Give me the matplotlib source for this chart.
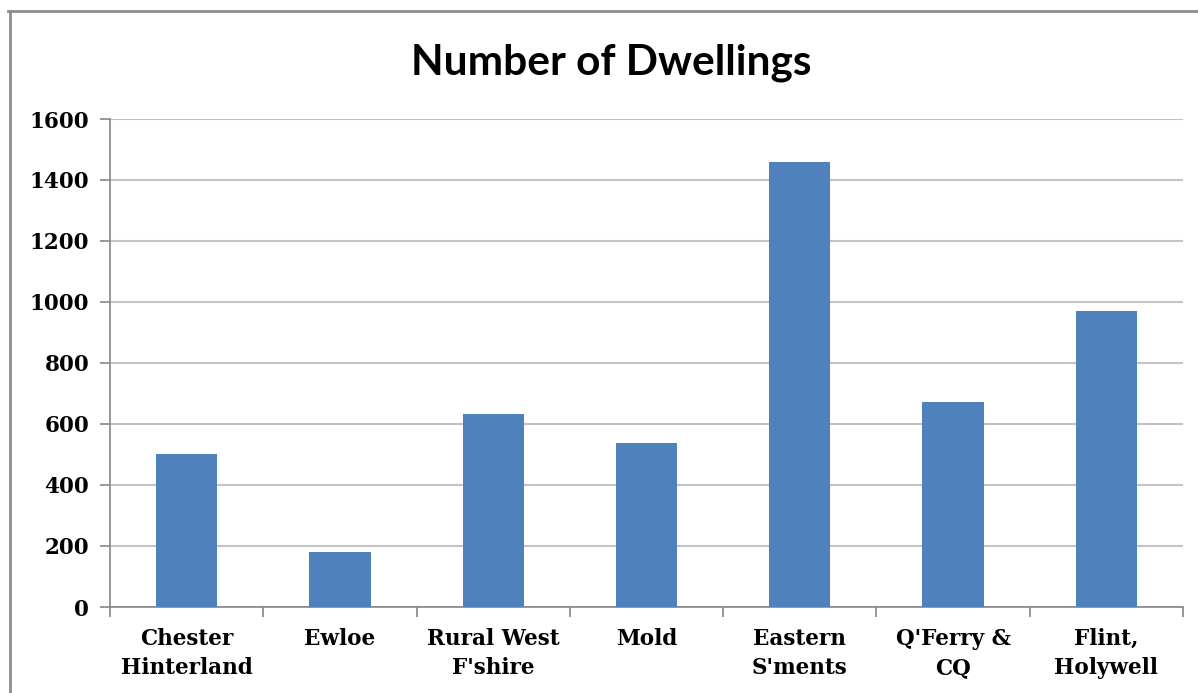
import matplotlib
matplotlib.use("Agg")
import matplotlib.pyplot as plt
from matplotlib.lines import Line2D
import numpy as np

categories = ["Chester\nHinterland", "Ewloe", "Rural West\nF'shire", "Mold",
              "Eastern\nS'ments", "Q'Ferry &\nCQ", "Flint,\nHolywell"]
dwellings = [503, 181, 634, 537, 1459, 671, 972]
yticks = [0, 200, 400, 600, 800, 1000, 1200, 1400, 1600]
title = "Number of Dwellings"

W, H = 1198, 693
fig = plt.figure(figsize=(W / 100, H / 100), dpi=100)
ax = fig.add_axes([110 / W, 1 - 607 / H, (1183 - 110) / W, (607 - 119) / H])

x = np.arange(len(categories))
ax.bar(x, dwellings, width=0.4, color="#4F81BD", zorder=3)

ax.set_xlim(-0.5, len(categories) - 0.5)
ax.set_ylim(0, 1600)
ax.set_yticks(yticks)
ax.set_yticklabels([str(v) for v in yticks], fontfamily="DejaVu Serif",
                   fontweight="bold", fontsize=15.5)
ax.set_xticks(x)
ax.set_xticklabels(categories, fontfamily="DejaVu Serif", fontweight="bold",
                   fontsize=15.5, linespacing=1.45)
ax.tick_params(axis="x", which="major", length=0, pad=15)
ax.set_xticks(np.arange(-0.5, len(categories), 1.0), minor=True)
ax.tick_params(axis="x", which="minor", length=7, width=1.2, color="#868686")
ax.tick_params(axis="y", length=7, width=1.2, color="#868686", pad=8)

ax.grid(axis="y", color="#C3C3C3", linewidth=1.5, zorder=0)
for s in ["top", "right"]:
    ax.spines[s].set_visible(False)
for s in ["left", "bottom"]:
    ax.spines[s].set_color("#868686")
    ax.spines[s].set_linewidth(1.2)

fig.text(611 / W, 1 - 63 / H, title, ha="center", va="center",
         fontfamily="Lato", fontweight="bold", fontsize=30.5)

# outer chart border (partially visible)
fig.add_artist(Line2D([8 / W, 1], [1 - 11 / H, 1 - 11 / H], transform=fig.transFigure,
                      color="#8C8C8C", linewidth=2))
fig.add_artist(Line2D([10 / W, 10 / W], [0, 1 - 11 / H], transform=fig.transFigure,
                      color="#8C8C8C", linewidth=2))

fig.savefig("out.png", dpi=100)
